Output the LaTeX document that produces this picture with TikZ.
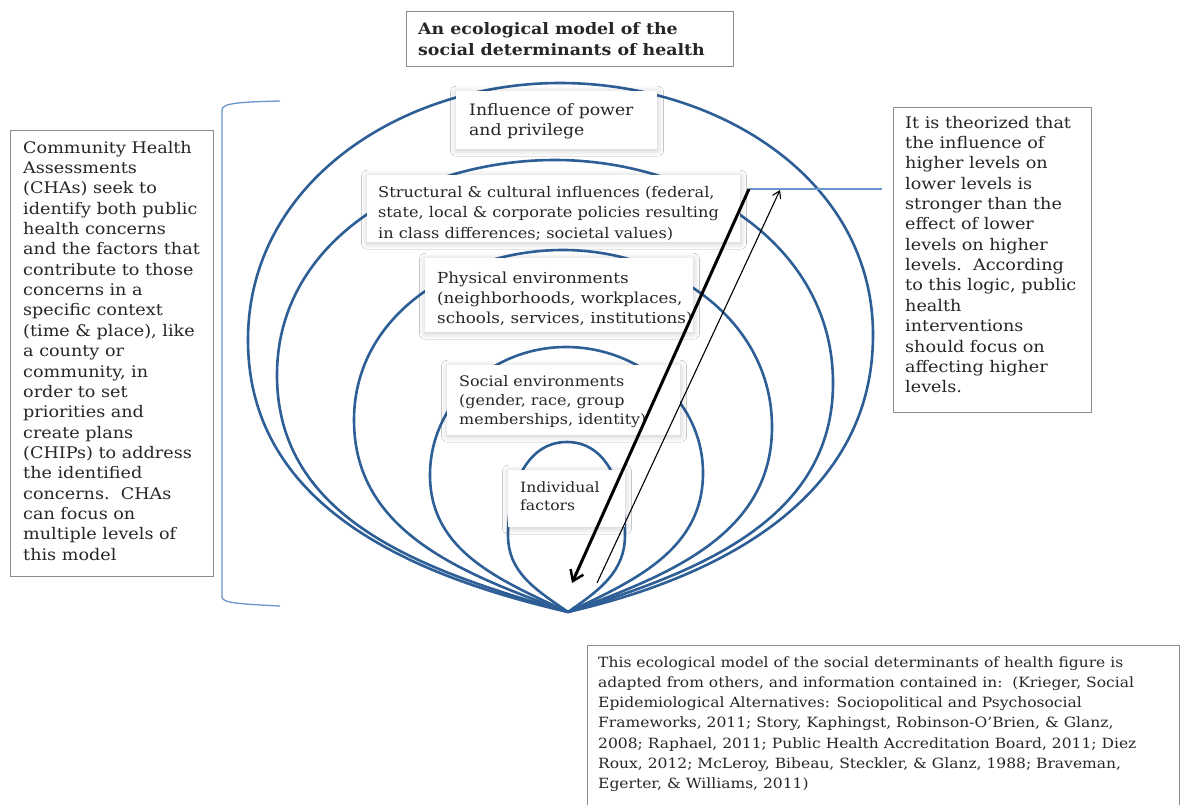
\documentclass[tikz,border=0pt]{standalone}
\usepackage{fontspec}
\setmainfont{DejaVu Serif}[FakeStretch=1.1]
\usetikzlibrary{arrows.meta,shadows.blur}
\definecolor{ovalblue}{RGB}{46,94,150}
\definecolor{brk}{RGB}{105,150,205}
\definecolor{boxgray}{RGB}{140,140,140}
\begin{document}
\begin{tikzpicture}[x=1pt,y=1pt,
  oval/.style={draw=ovalblue, line width=2.6pt},
  textbox/.style={draw=boxgray, line width=1pt, fill=white, anchor=north west, inner sep=0pt},
  labbox/.style={fill=white, anchor=north west, inner sep=0pt,
    blur shadow={shadow xshift=0.3pt, shadow yshift=-1pt, shadow blur radius=6pt, shadow blur steps=8, shadow opacity=22}},
  txt/.style={anchor=north west, inner sep=0pt, align=left, text=black!85},
  sidefont/.style={font=\fontsize{16}{20.35}\selectfont},
  bluelink/.style={draw=brk, line width=1.3pt}]
\useasboundingbox[fill=white] (0,0) rectangle (1184,-804);

% title
\node[textbox, minimum width=327pt, minimum height=55pt] (tbox) at (406,-11) {};
\node[txt, font=\bfseries\fontsize{15.8}{21}\selectfont] (title) at (418,-22) {An ecological model of the\\social determinants of health};

% ovals
\coordinate (B) at (568,-612);
\draw[oval] (B) to[out=167,in=-90] (248,-340) to[out=90,in=180] (560,-83) to[out=0,in=90] (873,-335) to[out=-90,in=13] (B);
\draw[oval] (B) to[out=164,in=-90] (277,-375) to[out=90,in=180] (555,-160) to[out=0,in=90] (833,-383) to[out=-90,in=17] (B);
\draw[oval] (B) to[out=160,in=-90] (354,-420) to[out=90,in=180] (563,-250) to[out=0,in=90] (772,-427) to[out=-90,in=20] (B);
\draw[oval] (B) to[out=155,in=-90] (430,-475) to[out=90,in=180] (566,-347) to[out=0,in=90] (703,-473) to[out=-90,in=25] (B);
\draw[oval] (B) to[out=145,in=-90] (508,-535) to[out=90,in=180] (567,-442) to[out=0,in=90] (625,-535) to[out=-90,in=35] (B);

% label boxes
\node[labbox, minimum width=201pt, minimum height=58pt] (binf) at (456,-91) {};
\node[txt, font=\fontsize{15.7}{20}\selectfont] (tinf) at (469,-103) {Influence of power\\and privilege};
\node[labbox, minimum width=373pt, minimum height=67pt] (bstr) at (367,-175) {};
\node[txt, font=\fontsize{14.7}{20.5}\selectfont] (tstr) at (378,-185.8) {Structural \& cultural influences (federal,\\state, local \& corporate policies resulting\\in class differences; societal values)};
\node[labbox, minimum width=268pt, minimum height=74pt] (bphy) at (425,-258) {};
\node[txt, font=\fontsize{15.2}{20}\selectfont] (tphy) at (437,-271.7) {Physical environments\\(neighborhoods, workplaces,\\schools, services, institutions)};
\node[labbox, minimum width=233pt, minimum height=70pt] (bsoc) at (447,-365) {};
\node[txt, font=\fontsize{14.5}{19}\selectfont] (tsoc) at (459,-375.3) {Social environments\\(gender, race, group\\memberships, identity)};
\node[labbox, minimum width=117pt, minimum height=57pt] (bind) at (508,-470) {};
\node[txt, font=\fontsize{14.2}{18}\selectfont] (tind) at (520,-481.5) {Individual\\factors};

% left box and bracket
\node[textbox, minimum width=203pt, minimum height=446pt] (lbox) at (10,-130) {};
\node[txt, sidefont] (ltext) at (23,-140.8) {Community Health\\Assessments\\(CHAs) seek to\\identify both public\\health concerns\\and the factors that\\contribute to those\\concerns in a\\specific context\\(time \& place), like\\a county or\\community, in\\order to set\\priorities and\\create plans\\(CHIPs) to address\\the identified\\concerns.\ \ CHAs\\can focus on\\multiple levels of\\this model};
\coordinate (brtop) at (280,-101);
\coordinate (brbot) at (280,-606);
\draw[bluelink] (brtop) .. controls (240,-102) and (222,-103) .. (222,-110) -- (222,-597) .. controls (222,-603) and (240,-604) .. (brbot);

% right box
\node[textbox, minimum width=198pt, minimum height=305pt] (rbox) at (893,-107) {};
\node[txt, sidefont] (rtext) at (905,-115.8) {It is theorized that\\the influence of\\higher levels on\\lower levels is\\stronger than the\\effect of lower\\levels on higher\\levels.\ \ According\\to this logic, public\\health\\interventions\\should focus on\\affecting higher\\levels.};

% arrows
\coordinate (thickA) at (749,-189);
\coordinate (thickB) at (572,-583);
\coordinate (thinA) at (597,-583);
\coordinate (thinB) at (780,-190);
\coordinate (linkEnd) at (882,-189);
\draw[bluelink] (thickA) -- (linkEnd);
\draw[line width=3pt, -{Straight Barb[length=10pt,width=14pt,line width=2.5pt]}] (thickA) -- (thickB);
\draw[line width=1.1pt, -{Straight Barb[length=7pt,width=9pt,line width=1.1pt]}] (thinA) -- (thinB);

% bottom box
\node[textbox, minimum width=592pt, minimum height=170pt] (bbox) at (587,-645) {};
\node[txt, font=\fontsize{14.1}{20.2}\selectfont] (btext) at (598,-656.3) {This ecological model of the social determinants of health figure is\\adapted from others, and information contained in:\ \ (Krieger, Social\\Epidemiological Alternatives: Sociopolitical and Psychosocial\\Frameworks, 2011; Story, Kaphingst, Robinson-O'Brien, \& Glanz,\\2008; Raphael, 2011; Public Health Accreditation Board, 2011; Diez\\Roux, 2012; McLeroy, Bibeau, Steckler, \& Glanz, 1988; Braveman,\\Egerter, \& Williams, 2011)};
\end{tikzpicture}
\end{document}
